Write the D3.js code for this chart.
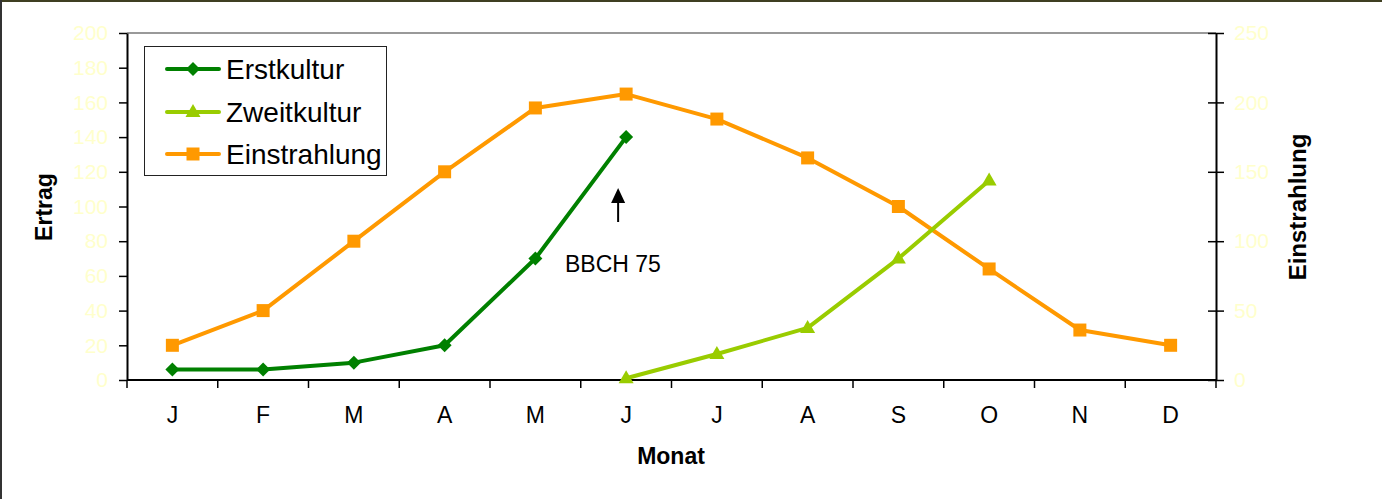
<!DOCTYPE html>
<html>
<head>
<meta charset="utf-8">
<script src="https://cdn.jsdelivr.net/npm/d3@7"></script>
<style>
  html, body { margin: 0; padding: 0; background: #fff; }
  svg { display: block; font-family: "Liberation Sans", Arial, sans-serif; }
</style>
</head>
<body>
<svg id="chart" width="1382" height="499"></svg>
<script>
// Monthly labels (German month initials)
const months = ["J", "F", "M", "A", "M", "J", "J", "A", "S", "O", "N", "D"];

// Yield of the first crop (Jan–Jun) and second crop (Jun–Oct), left axis
const erstkultur = [6, 6, 10, 20, 70, 140, null, null, null, null, null, null];
const zweitkultur = [null, null, null, null, null, 1, 15, 30, 70, 115, null, null];

// Solar irradiation, right axis
const einstrahlung = [25, 50, 100, 150, 196, 206, 188, 160, 125, 80, 36, 25];

// Axis ticks
const leftTicks = [0, 20, 40, 60, 80, 100, 120, 140, 160, 180, 200];
const rightTicks = [0, 50, 100, 150, 200, 250];

const seriesNames = ["Erstkultur", "Zweitkultur", "Einstrahlung"];
const colors = { Erstkultur: "#008000", Zweitkultur: "#99cc00", Einstrahlung: "#ff9900" };

const svg = d3.select("#chart");
const font = '"Liberation Sans", Arial, sans-serif';

const plot = { left: 127, right: 1216, top: 33, bottom: 380 };

const x = d3.scaleBand().domain(d3.range(months.length)).range([plot.left, plot.right]);
const yL = d3.scaleLinear().domain([0, 200]).range([plot.bottom, plot.top]);
const yR = d3.scaleLinear().domain([0, 250]).range([plot.bottom, plot.top]);
const cx = i => x(i) + x.bandwidth() / 2;

// Outer frame (top and left edges)
svg.append("line").attr("x1", 0).attr("x2", 1382).attr("y1", 1).attr("y2", 1)
  .attr("stroke", "#3f3f22").attr("stroke-width", 2);
svg.append("line").attr("x1", 1).attr("x2", 1).attr("y1", 0).attr("y2", 499)
  .attr("stroke", "#333").attr("stroke-width", 2);

// Plot area top edge
svg.append("line").attr("x1", plot.left).attr("x2", plot.right)
  .attr("y1", plot.top).attr("y2", plot.top)
  .attr("stroke", "#999").attr("stroke-width", 2);

// Left axis
const gL = svg.append("g").attr("transform", `translate(${plot.left},0)`)
  .call(d3.axisLeft(yL).tickValues(leftTicks).tickSize(8).tickPadding(11).tickSizeOuter(0));
gL.select(".domain").attr("stroke", "#000").attr("stroke-width", 2);
gL.selectAll(".tick line").attr("stroke", "#000").attr("stroke-width", 1.5);
gL.selectAll(".tick text").attr("fill", "#ffffcc").attr("font-size", 21).attr("font-family", font);

// Right axis (ticks cross the axis line)
const gR = svg.append("g").attr("transform", `translate(${plot.right},0)`)
  .call(d3.axisRight(yR).tickValues(rightTicks).tickSize(8).tickPadding(10).tickSizeOuter(0));
gR.select(".domain").attr("stroke", "#000").attr("stroke-width", 2);
gR.selectAll(".tick line").attr("x1", -8).attr("stroke", "#000").attr("stroke-width", 1.5);
gR.selectAll(".tick text").attr("fill", "#ffffcc").attr("font-size", 21).attr("font-family", font);

// Bottom axis: tick marks on the category boundaries, labels in the centers
const boundaries = d3.range(months.length + 1).map(i => plot.left + i * x.step());
const gB = svg.append("g");
gB.append("line").attr("x1", plot.left).attr("x2", plot.right)
  .attr("y1", plot.bottom).attr("y2", plot.bottom)
  .attr("stroke", "#000").attr("stroke-width", 2);
gB.selectAll("line.tick").data(boundaries).join("line").attr("class", "tick")
  .attr("x1", d => d).attr("x2", d => d)
  .attr("y1", plot.bottom).attr("y2", plot.bottom + 8)
  .attr("stroke", "#000").attr("stroke-width", 1.5);
gB.selectAll("text").data(months).join("text")
  .attr("x", (d, i) => cx(i)).attr("y", 423)
  .attr("text-anchor", "middle").attr("font-size", 23).attr("font-family", font)
  .attr("fill", "#000").text(d => d);

// Axis titles
svg.append("text").attr("x", 671).attr("y", 464).attr("text-anchor", "middle")
  .attr("font-size", 23).attr("font-weight", "bold").attr("font-family", font).text("Monat");
svg.append("text").attr("transform", "translate(52,207) rotate(-90)").attr("text-anchor", "middle")
  .attr("font-size", 23).attr("font-weight", "bold").attr("font-family", font).text("Ertrag");
svg.append("text").attr("transform", "translate(1306,207) rotate(-90)").attr("text-anchor", "middle")
  .attr("font-size", 24).attr("font-weight", "bold").attr("font-family", font).text("Einstrahlung");

// Marker shapes (centered on the data point)
const markerPaths = {
  Erstkultur: "M0,-7L7,0L0,7L-7,0Z",
  Zweitkultur: "M0,-8L7.5,5L-7.5,5Z",
  Einstrahlung: "M-6.5,-6.5H6.5V6.5H-6.5Z"
};

function drawSeries(name, values, scale) {
  const pts = values.map((v, i) => ({ i, v })).filter(d => d.v !== null);
  const g = svg.append("g");
  g.append("path").datum(pts)
    .attr("d", d3.line().x(d => cx(d.i)).y(d => scale(d.v)))
    .attr("fill", "none").attr("stroke", colors[name]).attr("stroke-width", 4)
    .attr("stroke-linejoin", "round");
  g.selectAll("path.m").data(pts).join("path").attr("class", "m")
    .attr("transform", d => `translate(${cx(d.i)},${scale(d.v)})`)
    .attr("d", markerPaths[name]).attr("fill", colors[name]);
}

drawSeries("Einstrahlung", einstrahlung, yR);
drawSeries("Erstkultur", erstkultur, yL);
drawSeries("Zweitkultur", zweitkultur, yL);

// Annotation: flowering stage marker below the June peak of the first crop
const ax = cx(5) - 8;
svg.append("line").attr("x1", ax).attr("x2", ax).attr("y1", 200).attr("y2", 222)
  .attr("stroke", "#000").attr("stroke-width", 2);
svg.append("path").attr("d", `M${ax},188 L${ax - 7},203 L${ax + 7},203 Z`).attr("fill", "#000");
svg.append("text").attr("x", 565).attr("y", 272).attr("font-size", 23).attr("font-family", font)
  .text("BBCH 75");

// Legend
const legend = svg.append("g");
legend.append("rect").attr("x", 144.5).attr("y", 46.5).attr("width", 242).attr("height", 129)
  .attr("fill", "#fff").attr("stroke", "#222").attr("stroke-width", 1);
const rowsY = [69, 112, 154];
seriesNames.forEach((name, k) => {
  const ry = rowsY[k];
  legend.append("line").attr("x1", 167).attr("x2", 219).attr("y1", ry).attr("y2", ry)
    .attr("stroke", colors[name]).attr("stroke-width", 4).attr("stroke-linecap", "round");
  legend.append("path").attr("transform", `translate(193,${ry})`)
    .attr("d", markerPaths[name]).attr("fill", colors[name]);
  legend.append("text").attr("x", 226).attr("y", ry).attr("dy", "0.36em")
    .attr("font-size", 28).attr("font-family", font).text(name);
});
</script>
</body>
</html>
